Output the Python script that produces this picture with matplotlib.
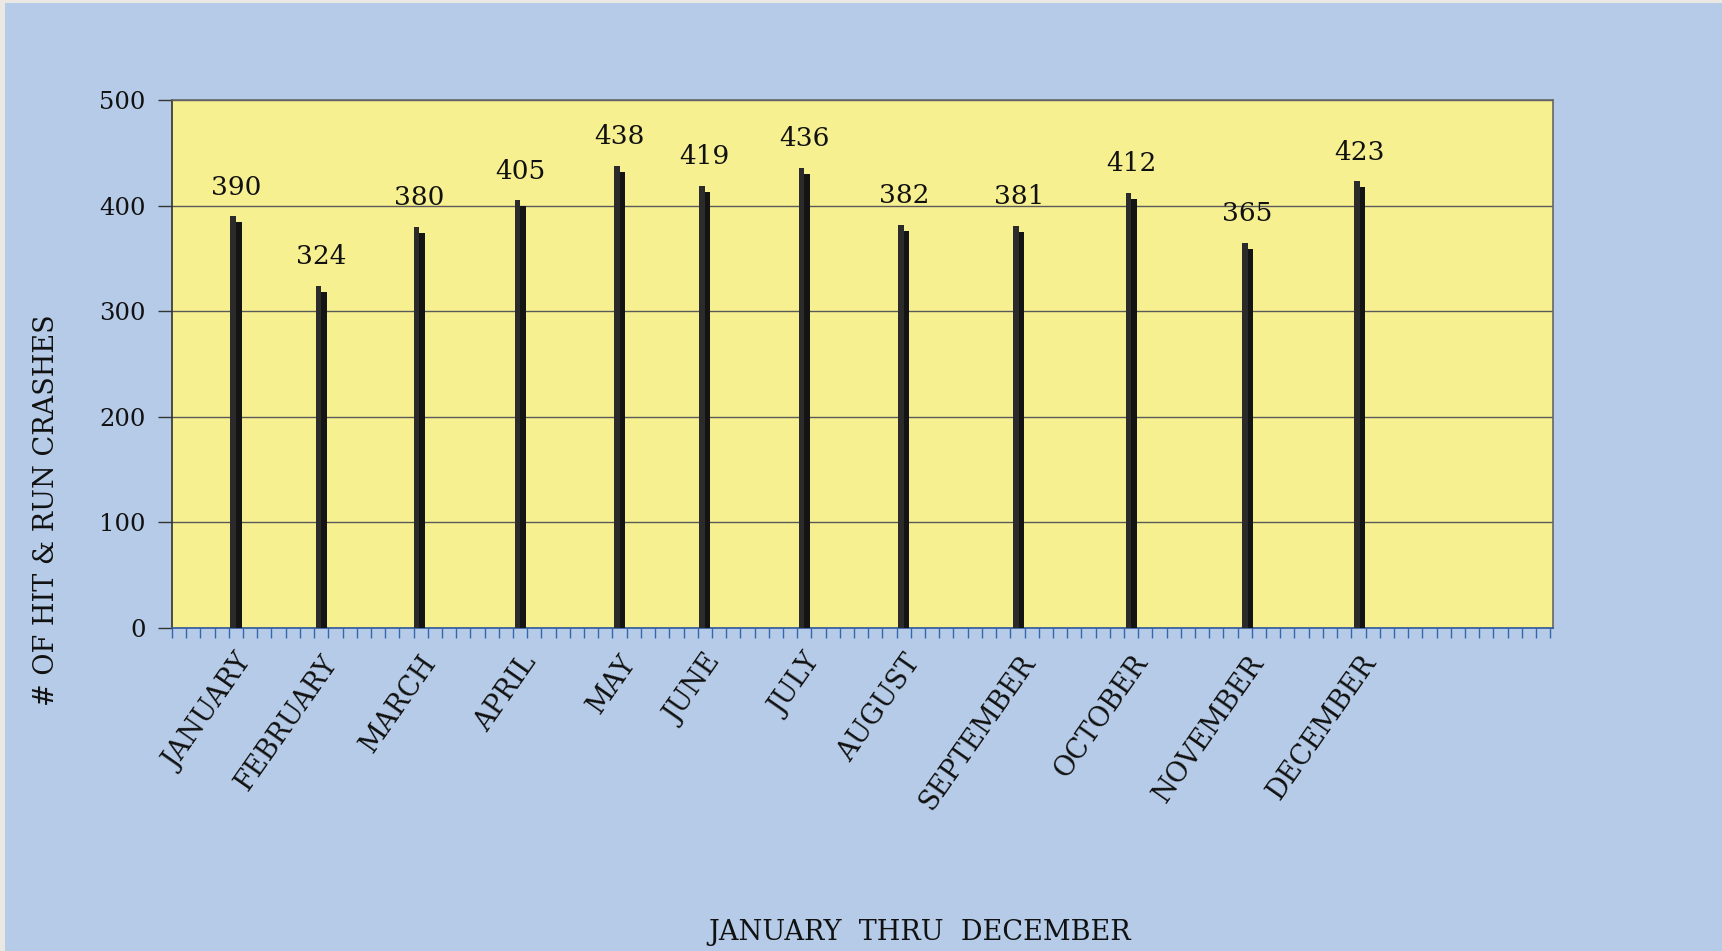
import matplotlib
matplotlib.use("Agg")
import matplotlib.pyplot as plt
import matplotlib.transforms as mtransforms
from matplotlib.patches import Rectangle
import numpy as np

months = ["JANUARY", "FEBRUARY", "MARCH", "APRIL", "MAY", "JUNE", "JULY",
          "AUGUST", "SEPTEMBER", "OCTOBER", "NOVEMBER", "DECEMBER"]
crashes = [390, 324, 380, 405, 438, 419, 436, 382, 381, 412, 365, 423]
month_pos = [4.5, 10.5, 17.4, 24.5, 31.5, 37.5, 44.5, 51.5, 59.6, 67.5, 75.7, 83.6]
y_ticks = [0, 100, 200, 300, 400, 500]

plt.rcParams['font.family'] = ['DejaVu Serif']

BG = '#b5cbe7'
PLOT_BG = '#f6f090'
TXT = '#111111'

fig = plt.figure(figsize=(17.22, 9.51), dpi=100, facecolor=BG)
ax = fig.add_axes([0.0999, 0.3397, 0.8020, 0.5551])
ax.set_facecolor(PLOT_BG)

# paper edges of the scan
fig.patches.append(Rectangle((0, 0), 5 / 1722, 1, transform=fig.transFigure,
                             facecolor='#ebe8e3', edgecolor='none', zorder=0))
fig.patches.append(Rectangle((0, 1 - 3 / 951), 1, 3 / 951, transform=fig.transFigure,
                             facecolor='#ebe8e3', edgecolor='none', zorder=0))

w = 0.39
x = np.array(month_pos)
# front face
ax.bar(x - w, crashes, width=w, align='edge', color='#2b2b2b', zorder=3)
# side / depth face, shifted down a few pixels
shift = mtransforms.ScaledTranslation(0, -0.06, fig.dpi_scale_trans)
side = ax.bar(x, crashes, width=w, align='edge', color='#141414', zorder=3)
for p in side:
    p.set_transform(ax.transData + shift)

for xp, v in zip(x, crashes):
    ax.annotate(str(v), (xp, v), xytext=(0, 12), textcoords='offset points',
                ha='center', va='bottom', fontsize=19, color=TXT)

ax.set_xlim(0, 97.2)
ax.set_ylim(0, 500)
ax.set_yticks(y_ticks)
ax.set_yticklabels([str(t) for t in y_ticks], fontsize=17.5, color=TXT)
ax.tick_params(axis='y', length=10, width=1, color='#333333', pad=9, direction='out')

ax.set_xticks(x)
ax.set_xticklabels(months, rotation=55, ha='right', va='top',
                   rotation_mode='anchor', fontsize=19.5, color=TXT)
ax.tick_params(axis='x', which='major', length=0, pad=16)
ax.set_xticks(np.arange(0, 98), minor=True)
ax.tick_params(axis='x', which='minor', length=7, width=1, color='#3566b0', direction='out')

ax.grid(axis='y', color='#5a5a5a', linewidth=1.0, zorder=1)
ax.set_axisbelow(True)

ax.spines['left'].set_color('#333333')
ax.spines['bottom'].set_color('#2f5a9e')
ax.spines['top'].set_color('#666666')
ax.spines['right'].set_color('#666666')
for s in ax.spines.values():
    s.set_linewidth(1.2)

fig.text(0.027, 0.464, '# OF HIT & RUN CRASHES', rotation=90, ha='center', va='center',
         fontsize=19.5, color=TXT)
fig.text(0.534, 0.019, 'JANUARY  THRU  DECEMBER', ha='center', va='center',
         fontsize=19.5, color=TXT)

fig.savefig('out.png', dpi=100, facecolor=BG)
